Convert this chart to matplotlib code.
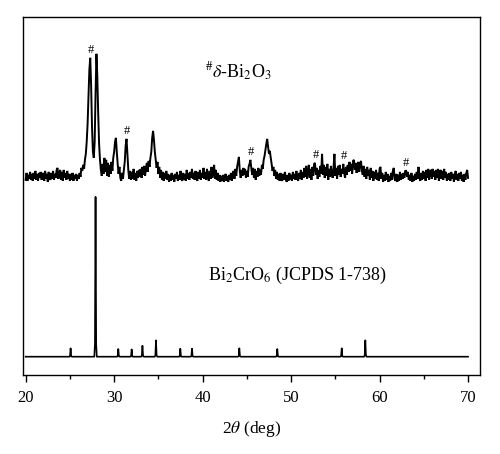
import numpy as np
import matplotlib
matplotlib.use("Agg")
import matplotlib.pyplot as plt
from matplotlib.ticker import MultipleLocator

plt.rcParams['font.family'] = ['Liberation Serif', 'DejaVu Serif']
plt.rcParams['mathtext.fontset'] = 'stix'
plt.rcParams['path.simplify'] = False

# ---- data ----
# sample pattern (top trace), 2theta from 20.0 to 70.0 in 0.1 deg steps
sample_start, sample_stop = 20.0, 70.0
sample_intensity = [
    2, 9, 1, 7, 3, 10, 2, 8, 1, 9,
    3, 11, 2, 8, 1, 9, 4, 10, 2, 7,
    9, 1, 11, 3, 8, 0, 10, 4, 2, 9,
    3, 11, 2, 8, 4, 12, 14, 3, 9, 12,
    2, 10, 1, 12, 4, 9, 2, 11, 3, 8,
    1, 8, 2, 9, 1, 7, 3, 8, 1, 7,
    3, 9, 5, 14, 11, 17, 13, 22, 28, 40,
    58, 85, 112, 124, 96, 55, 30, 24, 40, 88,
    128, 105, 68, 38, 22, 12, 6, 18, 8, 24,
    10, 22, 6, 19, 5, 17, 8, 20, 11, 24,
    30, 40, 44, 30, 18, 8, 15, 4, 1, 9,
    3, 12, 20, 36, 43, 28, 12, 3, 11, 2,
    10, 3, 13, 2, 9, 1, 11, 4, 12, 5,
    13, 4, 15, 7, 16, 6, 14, 19, 10, 21,
    15, 24, 30, 44, 51, 42, 30, 22, 14, 20,
    8, 15, 4, 12, 2, 10, 1, 9, 3, 11,
    2, 8, 0, 7, 1, 9, 2, 7, 0, 8,
    3, 10, 1, 7, 2, 11, 3, 1, 9, 2,
    8, 1, 12, 3, 9, 2, 10, 4, 13, 3,
    9, 2, 11, 4, 1, 10, 3, 12, 2, 9,
    4, 14, 3, 10, 2, 13, 5, 1, 11, 3,
    15, 4, 10, 17, 3, 12, 2, 9, 1, 7,
    0, 6, 1, 7, 0, 5, 8, 1, 6, 0,
    7, 2, 9, 1, 8, 11, 3, 13, 6, 15,
    20, 25, 11, 4, 12, 6, 14, 7, 13, 4,
    11, 5, 15, 18, 22, 14, 7, 14, 4, 13,
    2, 11, 5, 14, 6, 12, 7, 17, 13, 22,
    26, 32, 38, 43, 35, 28, 31, 24, 18, 11,
    15, 6, 12, 3, 10, 2, 8, 1, 9, 3,
    1, 8, 2, 10, 3, 0, 7, 1, 9, 2,
    7, 1, 10, 3, 8, 2, 11, 4, 1, 9,
    3, 12, 2, 10, 4, 14, 5, 16, 3, 11,
    17, 4, 13, 2, 15, 6, 18, 19, 7, 14,
    3, 12, 5, 16, 8, 28, 7, 17, 4, 15,
    6, 18, 2, 13, 5, 16, 8, 4, 15, 28,
    6, 14, 3, 16, 7, 17, 5, 13, 8, 18,
    9, 4, 15, 7, 17, 10, 20, 11, 18, 8,
    21, 22, 12, 19, 9, 17, 20, 10, 18, 21,
    11, 7, 16, 5, 13, 3, 15, 6, 12, 2,
    14, 4, 11, 1, 10, 3, 12, 2, 9, 1,
    13, 15, 3, 9, 0, 7, 1, 10, 2, 8,
    0, 6, 1, 9, 2, 11, 14, 3, 1, 8,
    0, 7, 1, 10, 2, 8, 3, 9, 4, 11,
    11, 5, 10, 2, 7, 1, 9, 0, 6, 1,
    8, 2, 10, 3, 15, 4, 1, 9, 2, 11,
    3, 10, 1, 12, 4, 13, 2, 10, 12, 3,
    13, 5, 11, 2, 12, 4, 13, 1, 10, 12,
    3, 11, 2, 13, 4, 10, 1, 8, 2, 9,
    1, 10, 3, 8, 0, 7, 11, 2, 8, 1,
    9, 3, 10, 1, 7, 0, 8, 2, 9, 12,
    4,
]

# delta-Bi2O3 marked reflections
hash_pos = [27.35, 31.45, 45.45, 52.75, 55.95, 63.0]

# reference pattern Bi2CrO6 (JCPDS 1-738)
ref_pos = [25.08, 27.9, 30.47, 31.98, 33.2, 34.73, 37.48, 38.8, 44.15,
           48.44, 55.72, 58.39]
ref_int = [8.4, 159.7, 7.7, 7.3, 11.0, 16.4, 8.0, 8.0, 8.4, 7.7, 8.4, 16.4]

label_top = r'$^{\#}\delta$-Bi$_2$O$_3$'
label_bottom = r'Bi$_2$CrO$_6$ (JCPDS 1-738)'
xlabel = r'2$\theta$ (deg)'
xticks = [20, 30, 40, 50, 60, 70]

# ---- figure ----
fig = plt.figure(figsize=(5.0, 4.54), dpi=100)
ax = fig.add_axes([0.046, 0.174, 0.914, 0.789])

top_offset = 193.0
bot_offset = 18.3

x_s = np.linspace(sample_start, sample_stop, len(sample_intensity))
y_s = np.array(sample_intensity, dtype=float)
ax.plot(x_s, y_s + top_offset, color='black', lw=1.4, solid_joinstyle='miter')

# stick-like reference peaks on a flat baseline
w = 0.07
xr = [sample_start]
yr = [0.0]
for p, h in zip(ref_pos, ref_int):
    xr += [p - 2 * w, p - w, p, p + w, p + 2 * w]
    yr += [0.0, h * 0.08, h, h * 0.08, 0.0]
xr.append(sample_stop)
yr.append(0.0)
ax.plot(xr, np.array(yr) + bot_offset, color='black', lw=1.2)

for hp in hash_pos:
    m = (x_s > hp - 0.3) & (x_s < hp + 0.3)
    yy = y_s[m].max() + top_offset + 8
    ax.text(hp, yy, '#', ha='center', va='center', fontsize=9)

ax.text(40.3, 303, label_top, fontsize=13, ha='left', va='center')
ax.text(40.6, 100, label_bottom, fontsize=13, ha='left', va='center')

ax.set_xlim(19.7, 71.35)
ax.set_ylim(0, 358)
ax.set_yticks([])
ax.set_xticks(xticks)
ax.xaxis.set_minor_locator(MultipleLocator(5))
ax.tick_params(axis='x', which='major', direction='out', length=5, width=1,
               labelsize=12, pad=6)
ax.tick_params(axis='x', which='minor', direction='out', length=3, width=1)
for s in ax.spines.values():
    s.set_linewidth(1.0)
ax.set_xlabel(xlabel, fontsize=12.5, labelpad=9)

fig.savefig('out.png', dpi=100)
